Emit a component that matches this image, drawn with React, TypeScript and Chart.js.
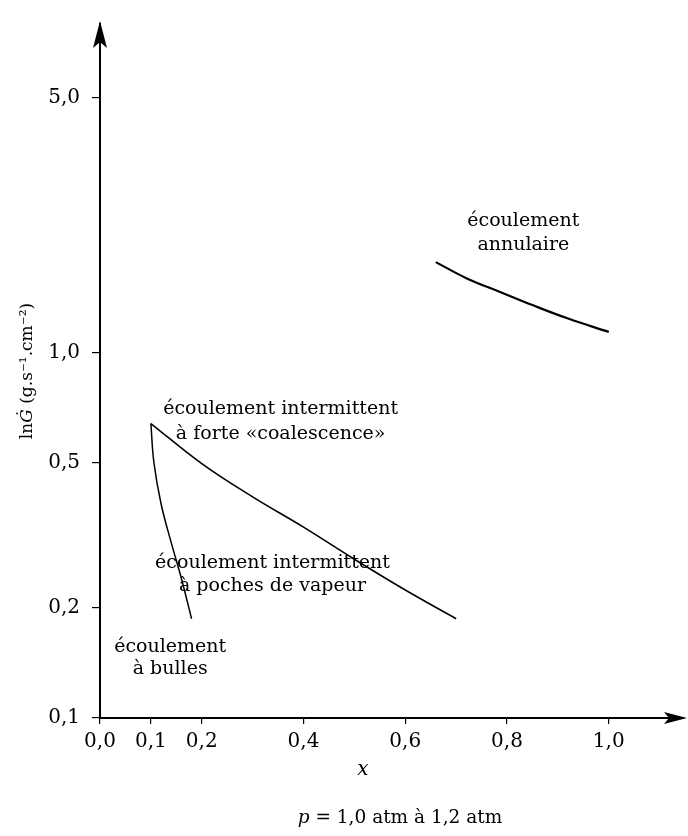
import React, { useEffect, useRef } from "react";
import { Chart, registerables } from "chart.js";

Chart.register(...registerables);

// Flow-regime boundaries, mass velocity G versus quality x
const annularX = [0.66, 0.72, 0.79, 0.85, 0.92, 1.0];
const annularG = [1.77, 1.6, 1.46, 1.35, 1.24, 1.14];

const slugX = [0.1, 0.2, 0.3, 0.4, 0.5, 0.6, 0.7];
const slugG = [0.64, 0.497, 0.403, 0.333, 0.272, 0.224, 0.187];

const bubbleX = [0.1, 0.106, 0.12, 0.14, 0.16, 0.18];
const bubbleG = [0.64, 0.5, 0.386, 0.302, 0.241, 0.187];

const xTicks = [0, 0.1, 0.2, 0.4, 0.6, 0.8, 1.0];
const yTicks = [0.1, 0.2, 0.5, 1, 5];

const regimeNames = [
  ["écoulement", "annulaire"],
  ["écoulement intermittent", "à forte «coalescence»"],
  ["écoulement intermittent", "à poches de vapeur"],
  ["écoulement", "à bulles"],
];

// anchor of each regime name (centre of its first line), in data units
const regimeAnchors = [
  { x: 0.832, g: 2.3, gap: 24 },
  { x: 0.355, g: 0.7, gap: 25 },
  { x: 0.339, g: 0.266, gap: 23 },
  { x: 0.138, g: 0.156, gap: 22 },
];

const FONT = '"DejaVu Serif", serif';

const toPts = (xs: number[], gs: number[]) => xs.map((x, i) => ({ x, y: gs[i] }));
const comma = (v: number) => Number(v).toFixed(1).replace(".", ",");

const overlay = {
  id: "overlay",
  afterDraw(chart: any) {
    const { ctx, chartArea: a, scales } = chart;
    const xs = scales.x;
    const ys = scales.y;
    ctx.save();
    ctx.fillStyle = "#000";
    ctx.strokeStyle = "#000";

    // arrow heads on both axes
    const x0 = a.left;
    const y0 = a.bottom;
    ctx.beginPath();
    ctx.moveTo(x0, a.top - 3);
    ctx.lineTo(x0 - 7, a.top + 24);
    ctx.lineTo(x0, a.top + 18);
    ctx.lineTo(x0 + 7, a.top + 24);
    ctx.closePath();
    ctx.fill();

    ctx.lineWidth = 2;
    ctx.beginPath();
    ctx.moveTo(a.right - 2, y0);
    ctx.lineTo(a.right + 4, y0);
    ctx.stroke();
    ctx.beginPath();
    ctx.moveTo(a.right + 7, y0);
    ctx.lineTo(a.right - 16, y0 - 6);
    ctx.lineTo(a.right - 11, y0);
    ctx.lineTo(a.right - 16, y0 + 6);
    ctx.closePath();
    ctx.fill();

    // regime names
    ctx.font = `19px ${FONT}`;
    ctx.textAlign = "center";
    ctx.textBaseline = "middle";
    regimeNames.forEach((lines, i) => {
      const an = regimeAnchors[i];
      const px = xs.getPixelForValue(an.x);
      const py = ys.getPixelForValue(an.g);
      lines.forEach((t, j) => ctx.fillText(t, px, py + j * an.gap));
    });

    // helper: draw mixed-style text runs centred at (cx, cy)
    const runs = (parts: { t: string; f: string }[], cx: number, cy: number) => {
      let w = 0;
      parts.forEach((p) => {
        ctx.font = p.f;
        w += ctx.measureText(p.t).width;
      });
      let x = cx - w / 2;
      ctx.textAlign = "left";
      parts.forEach((p) => {
        ctx.font = p.f;
        ctx.fillText(p.t, x, cy);
        x += ctx.measureText(p.t).width;
      });
    };

    // y-axis title
    ctx.save();
    ctx.translate(28, (a.top + a.bottom) / 2);
    ctx.rotate(-Math.PI / 2);
    runs(
      [
        { t: "ln", f: `17px ${FONT}` },
        { t: "Ġ", f: `italic 17px ${FONT}` },
        { t: " (g.s⁻¹.cm⁻²)", f: `17px ${FONT}` },
      ],
      0,
      0
    );
    ctx.restore();

    // x-axis title and pressure note
    runs([{ t: "x", f: `italic 20px ${FONT}` }], 363, 770);
    runs(
      [
        { t: "p", f: `italic 18.5px ${FONT}` },
        { t: " = 1,0 atm à 1,2 atm", f: `18.5px ${FONT}` },
      ],
      400,
      818
    );
    ctx.restore();
  },
};

export default function App() {
  const ref = useRef<HTMLCanvasElement | null>(null);

  useEffect(() => {
    document.body.style.margin = "0";
    const canvas = ref.current;
    if (!canvas) return;
    Chart.defaults.font.family = FONT;
    const line = (pts: any[], w: number) => ({
      data: pts,
      borderColor: "#000",
      borderWidth: w,
      pointRadius: 0,
      fill: false,
      tension: 0.4,
    });
    const chart = new Chart(canvas, {
      type: "line",
      data: {
        datasets: [
          line(toPts(annularX, annularG), 2.2),
          line(toPts(slugX, slugG), 1.6),
          line(toPts(bubbleX, bubbleG), 1.5),
        ],
      },
      plugins: [overlay],
      options: {
        responsive: false,
        animation: false,
        events: [],
        layout: { padding: { top: 15, right: 8, left: 0, bottom: 0 } },
        plugins: { legend: { display: false }, tooltip: { enabled: false } },
        scales: {
          x: {
            type: "linear",
            min: 0,
            max: 1.14,
            afterBuildTicks: (s: any) => {
              s.ticks = xTicks.map((v) => ({ value: v }));
            },
            afterFit: (s: any) => {
              s.height = 118;
            },
            ticks: {
              autoSkip: false,
              maxRotation: 0,
              minRotation: 0,
              color: "#000",
              padding: 6,
              font: { size: 20, family: FONT },
              callback: (v: any) => comma(v),
            },
            grid: { drawOnChartArea: false, color: "#000", tickLength: 6, lineWidth: 1.2 },
            border: { color: "#000", width: 2 },
          },
          y: {
            type: "logarithmic",
            min: 0.1,
            max: 7.94,
            afterBuildTicks: (s: any) => {
              s.ticks = yTicks.map((v) => ({ value: v }));
            },
            afterFit: (s: any) => {
              s.width = 100;
            },
            ticks: {
              autoSkip: false,
              color: "#000",
              padding: 12,
              font: { size: 20, family: FONT },
              callback: (v: any) => comma(v),
            },
            grid: { drawOnChartArea: false, color: "#000", tickLength: 8, lineWidth: 1.2 },
            border: { color: "#000", width: 2 },
          },
        },
      },
    });
    return () => chart.destroy();
  }, []);

  return (
    <div style={{ width: 688, height: 836, background: "#fff" }}>
      <canvas ref={ref} width={688} height={836} style={{ width: 688, height: 836, display: "block" }} />
    </div>
  );
}
